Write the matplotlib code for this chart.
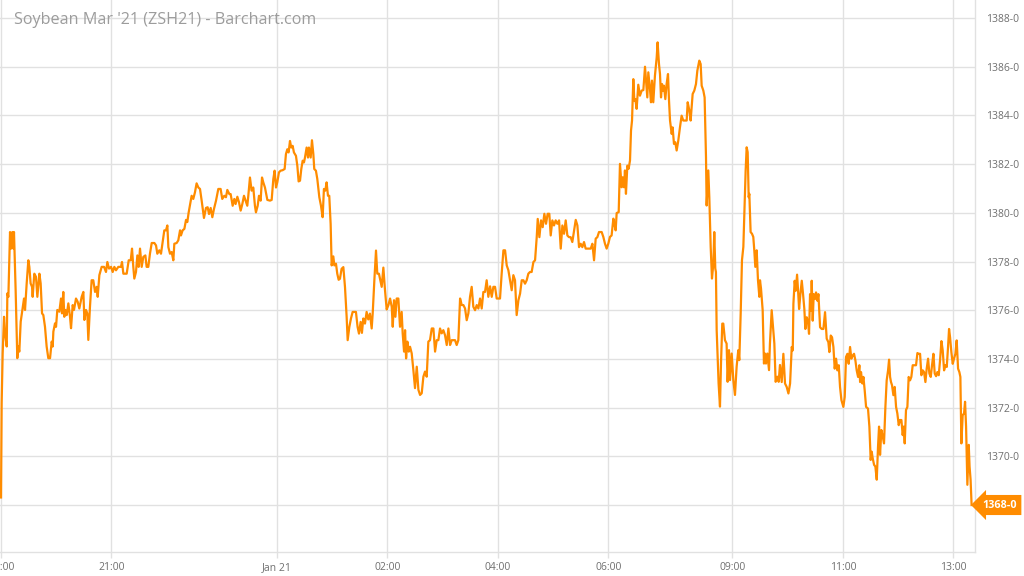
import matplotlib
matplotlib.use("Agg")
import matplotlib.pyplot as plt
import matplotlib.transforms as mtransforms
from matplotlib.ticker import FixedLocator, FuncFormatter, MultipleLocator

plt.rcParams['font.family'] = ['Open Sans', 'DejaVu Sans']

# ---------------------------------------------------------
# Data: ZSH21 intraday, (session minutes since 19:00 open, price in cents)
# session 19:00 -> 07:45, pause, 08:30 -> 13:20 (CT)
# ---------------------------------------------------------
title = "Soybean Mar '21 (ZSH21) - Barchart.com"

evening = [
    (0, 1368.31), (0.7, 1372.19), (1.8, 1374.23), (3.3, 1375.73), (4.3, 1375.05), (6.2, 1374.51),
    (6.9, 1376.69), (8.0, 1376.55), (9.8, 1379.21), (10.9, 1378.53), (12.3, 1379.21), (13.4, 1378.53),
    (14.1, 1379.21), (15.9, 1376.82), (17.7, 1374.03), (18.8, 1374.51), (19.9, 1374.30), (21.4, 1375.53),
    (23.2, 1376.01), (25.0, 1376.48), (26.1, 1376.01), (27.9, 1377.10), (29.7, 1378.05), (30.8, 1377.78),
    (32.2, 1377.10), (33.7, 1376.96), (34.4, 1376.55), (36.2, 1377.50), (38.0, 1377.37), (39.5, 1376.55),
    (41.7, 1377.50), (43.1, 1377.10), (44.6, 1375.87), (46.0, 1375.80), (47.8, 1375.32), (49.6, 1374.51),
    (51.4, 1374.03), (53.3, 1374.03), (55.1, 1374.71), (56.2, 1374.51), (56.9, 1375.12), (58.7, 1375.46),
    (59.8, 1375.32), (61.2, 1376.01), (63.4, 1375.94), (65.2, 1376.48), (66.3, 1375.87), (67.7, 1376.75),
    (68.8, 1375.73), (69.9, 1376.01), (71.4, 1375.80), (73.2, 1376.28), (75.0, 1375.73), (76.1, 1375.26),
    (77.9, 1376.21), (79.3, 1376.01), (81.5, 1376.48), (83.3, 1376.35), (85.1, 1376.07), (87.7, 1376.55),
    (89.5, 1376.75), (90.6, 1375.60), (92.4, 1376.01), (93.8, 1375.87), (94.9, 1374.78), (96.7, 1376.14),
    (98.5, 1377.23), (100.3, 1377.23), (102.2, 1376.75), (104.0, 1376.96), (105.1, 1376.55), (106.9, 1377.44),
    (109.4, 1377.78), (112.0, 1377.78), (114.1, 1377.57), (115.6, 1377.98), (117.4, 1377.71), (119.6, 1377.78),
    (121.4, 1377.57), (123.2, 1377.78), (125.0, 1377.64), (127.5, 1377.78), (130.4, 1377.78), (131.5, 1377.98),
    (133.0, 1377.50), (136.6, 1377.50), (138.8, 1378.05), (141.0, 1378.05), (142.4, 1378.53), (143.8, 1377.78),
    (144.9, 1377.30), (146.7, 1377.57), (148.2, 1378.25), (149.6, 1377.78), (151.1, 1378.53), (152.9, 1377.78),
    (154.7, 1378.19), (156.9, 1378.25), (158.3, 1377.78), (160.1, 1377.78), (161.9, 1378.32), (163.8, 1378.76),
    (166.7, 1378.76), (168.5, 1378.66), (169.9, 1378.32), (172.1, 1378.46), (173.9, 1378.32), (175.7, 1378.80),
    (177.5, 1379.28), (179.3, 1379.28), (180.8, 1379.48), (181.9, 1378.59), (183.7, 1378.32), (185.5, 1378.39),
    (187.3, 1378.05), (188.4, 1378.73), (190.9, 1378.76), (192.7, 1378.87), (194.6, 1379.28), (195.6, 1379.07),
    (197.4, 1379.28), (199.3, 1379.34), (201.1, 1379.71), (202.5, 1379.62), (204.0, 1380.02), (207.2, 1380.70),
    (209.0, 1380.57), (210.8, 1380.84), (212.6, 1381.21), (214.5, 1381.04), (216.3, 1380.98), (218.1, 1380.50),
    (220.6, 1379.79), (222.8, 1380.20), (224.6, 1380.23), (226.1, 1379.95), (227.9, 1380.20), (229.7, 1379.82),
    (231.5, 1380.16), (233.7, 1380.50), (236.2, 1380.98), (238.7, 1380.98), (240.5, 1380.57), (242.7, 1380.70),
    (244.5, 1380.64), (246.0, 1380.94), (248.2, 1380.77), (249.6, 1380.77), (251.8, 1380.29), (253.6, 1380.57),
    (255.0, 1380.36), (256.9, 1380.66), (258.7, 1380.43), (260.5, 1380.09), (262.3, 1380.36), (264.1, 1380.70),
    (265.9, 1380.50), (267.7, 1380.29), (268.8, 1380.70), (270.6, 1381.45), (272.4, 1380.91), (274.2, 1381.04),
    (276.0, 1380.29), (277.1, 1380.02), (279.0, 1380.29), (280.4, 1380.70), (282.2, 1380.50), (283.7, 1381.45),
    (285.1, 1381.25), (286.9, 1381.04), (289.5, 1380.53), (292.4, 1380.50), (294.2, 1380.53), (296.0, 1381.39),
    (297.4, 1381.73), (298.9, 1381.04),
]

overnight = [
    (300.3, 1381.25), (302.1, 1381.66), (303.9, 1381.73), (306.1, 1381.75), (308.3, 1381.80), (309.7, 1382.41),
    (311.2, 1382.61), (312.6, 1382.48), (314.1, 1382.95), (315.5, 1382.68), (317.0, 1382.75), (318.4, 1382.48),
    (320.6, 1382.34), (322.1, 1381.93), (323.5, 1381.29), (325.0, 1381.32), (326.4, 1381.80), (327.9, 1382.14),
    (329.3, 1382.07), (330.4, 1382.27), (332.2, 1382.68), (333.7, 1382.27), (334.7, 1382.68), (336.6, 1382.27),
    (338.0, 1382.98), (339.5, 1382.41), (340.5, 1381.80), (342.3, 1381.73), (343.8, 1381.39), (346.0, 1380.64),
    (347.8, 1380.29), (349.6, 1379.82), (351.0, 1380.98), (352.5, 1380.91), (353.9, 1381.25), (355.4, 1380.70),
    (356.8, 1380.70), (358.3, 1379.54), (359.4, 1377.84), (361.2, 1378.21), (362.3, 1377.84), (364.1, 1377.91),
    (365.5, 1377.50), (367.0, 1377.25), (368.4, 1377.29), (370.2, 1377.70), (372.1, 1377.77), (373.9, 1376.95),
    (375.7, 1375.72), (376.8, 1374.77), (378.6, 1375.31), (380.4, 1375.66), (382.2, 1375.93), (384.0, 1375.93),
    (385.8, 1375.93), (387.6, 1375.31), (389.1, 1375.04), (390.9, 1375.52), (392.3, 1375.07), (393.8, 1375.66),
    (395.6, 1375.45), (397.4, 1375.93), (399.2, 1375.62), (401.0, 1375.86), (402.9, 1375.25), (404.0, 1375.86),
    (405.8, 1377.22), (407.6, 1378.45), (409.0, 1377.50), (410.8, 1377.50), (413.8, 1376.96), (415.6, 1377.75),
    (417.4, 1376.82), (419.2, 1376.03), (421.1, 1376.21), (422.9, 1376.48), (424.7, 1376.14), (425.8, 1375.32),
    (427.2, 1376.41), (428.7, 1375.73), (430.1, 1376.48), (431.9, 1376.48), (433.7, 1375.32), (435.5, 1375.93),
    (436.6, 1375.05), (438.1, 1374.30), (439.2, 1375.18), (440.3, 1374.02), (441.7, 1374.71), (443.2, 1374.30),
    (444.6, 1374.50), (446.4, 1374.23), (448.2, 1373.55), (450.0, 1372.80), (451.9, 1373.68), (453.7, 1372.73),
    (455.5, 1372.52), (457.3, 1372.59), (459.1, 1373.27), (460.9, 1373.48), (462.7, 1373.27), (464.5, 1374.71),
    (466.3, 1374.77), (468.2, 1375.25), (470.0, 1375.25), (471.8, 1374.30), (473.6, 1374.77), (475.4, 1374.77),
    (477.2, 1375.25), (479.0, 1375.05), (480.8, 1375.18), (482.6, 1374.98), (484.5, 1374.57), (486.3, 1375.25),
    (488.1, 1374.57), (489.9, 1374.77), (493.5, 1374.77), (495.3, 1374.57), (497.1, 1374.77), (499.0, 1376.48),
    (500.8, 1376.21), (502.6, 1376.21), (504.4, 1376.07), (506.2, 1375.59), (508.0, 1375.87), (509.8, 1376.55),
    (511.6, 1376.96), (513.4, 1376.14), (515.3, 1376.00), (517.1, 1376.21), (518.9, 1376.07), (520.7, 1376.48),
    (522.5, 1376.07), (524.3, 1376.75), (526.1, 1376.75), (527.9, 1377.23), (529.7, 1376.55), (531.6, 1376.98),
    (533.4, 1376.55), (535.2, 1376.96), (537.0, 1376.96), (538.8, 1376.48), (542.4, 1376.48), (544.2, 1377.50),
    (546.1, 1378.46), (547.9, 1378.46), (549.7, 1377.84), (551.5, 1377.64), (553.3, 1377.23), (555.1, 1376.82),
    (556.9, 1377.44), (558.7, 1377.23), (560.5, 1375.80), (562.4, 1376.41), (564.2, 1376.68), (566.0, 1377.23),
    (567.8, 1377.23), (569.6, 1377.09), (571.4, 1377.23), (573.2, 1377.50), (575.0, 1377.57), (576.8, 1377.57),
    (578.7, 1377.98), (580.5, 1378.05), (582.3, 1379.00), (583.4, 1379.75), (585.2, 1379.00), (587.0, 1379.69),
    (588.8, 1379.41), (590.6, 1379.96), (592.4, 1379.55), (594.2, 1379.96), (596.0, 1379.96), (597.5, 1379.07),
    (599.3, 1379.69), (601.1, 1379.48), (602.9, 1379.69), (604.7, 1379.55), (606.6, 1379.69), (608.4, 1378.53),
    (610.2, 1379.48), (612.0, 1379.14), (613.8, 1379.69), (615.6, 1379.07), (617.4, 1379.00), (619.2, 1379.00),
    (621.0, 1378.80), (622.9, 1379.28), (624.7, 1379.71), (626.5, 1379.48), (628.3, 1378.59), (630.1, 1378.73),
    (631.9, 1378.59), (633.7, 1378.80), (635.5, 1378.53), (637.4, 1378.53), (639.2, 1378.53), (641.0, 1378.53),
    (642.8, 1378.73), (644.6, 1378.05), (646.4, 1378.94), (648.2, 1379.00), (650.0, 1379.21), (652.9, 1379.21),
    (654.7, 1379.01), (656.5, 1378.73), (658.3, 1378.53), (660.1, 1378.73), (661.9, 1379.01), (663.7, 1379.07),
    (665.6, 1379.76), (666.6, 1379.55), (668.1, 1379.28), (669.2, 1379.99), (671.4, 1380.03), (672.8, 1382.01),
    (674.6, 1381.05), (675.7, 1381.46), (677.2, 1381.05), (678.2, 1381.74), (679.3, 1380.78), (680.8, 1381.94),
    (682.2, 1381.81), (683.7, 1382.15), (684.8, 1383.38), (685.9, 1383.79), (687.3, 1385.49), (688.4, 1384.61),
    (689.5, 1384.67), (690.9, 1384.27), (692.7, 1385.26), (694.5, 1384.81), (696.4, 1385.02), (698.2, 1385.04),
    (700.0, 1386.00), (701.1, 1385.43), (702.5, 1384.74), (703.6, 1385.77), (705.4, 1385.08), (706.5, 1384.54),
    (707.6, 1385.43), (709.0, 1384.54), (710.8, 1385.63), (712.7, 1386.38), (713.7, 1387.00), (715.2, 1386.11),
    (716.3, 1385.70), (717.4, 1384.74), (718.5, 1385.29), (719.5, 1385.02), (720.6, 1385.22), (722.1, 1384.67),
    (723.5, 1385.29), (725.0, 1385.70), (726.1, 1384.61), (727.2, 1383.79), (729.0, 1383.24), (730.0, 1383.51),
    (731.5, 1382.83), (732.9, 1382.90), (734.4, 1382.56), (736.2, 1382.97), (738.0, 1383.51), (739.8, 1383.99),
    (741.6, 1383.79), (743.5, 1383.79), (745.3, 1383.79), (746.4, 1384.54), (748.2, 1384.20), (749.6, 1383.79),
    (751.8, 1384.88), (753.6, 1385.02), (755.4, 1385.29), (756.9, 1385.84), (759.0, 1386.25), (760.5, 1386.11),
    (761.6, 1385.22), (763.4, 1385.02), (764.8, 1384.74),
]

day = [
    (766.3, 1382.28), (767.0, 1380.30), (768.8, 1381.74), (769.9, 1380.64), (771.4, 1378.60), (772.8, 1377.30),
    (774.3, 1377.91), (775.3, 1379.21), (776.4, 1377.71), (777.1, 1377.57), (777.9, 1375.18), (779.0, 1374.02),
    (780.0, 1372.99), (781.5, 1372.04), (782.6, 1373.81), (784.0, 1375.45), (785.1, 1375.45), (786.9, 1374.77),
    (788.7, 1374.63), (789.8, 1373.06), (791.3, 1374.36), (792.4, 1373.13), (794.2, 1374.22), (796.0, 1373.13),
    (797.8, 1372.52), (799.6, 1373.68), (801.4, 1374.36), (802.5, 1373.95), (804.0, 1375.86), (805.4, 1378.05),
    (806.9, 1378.60), (807.9, 1379.83), (809.4, 1381.74), (810.5, 1382.69), (811.6, 1382.49), (812.7, 1380.64),
    (813.4, 1380.78), (814.8, 1379.21), (816.3, 1379.14), (817.7, 1379.01), (818.8, 1378.46), (819.9, 1377.78),
    (821.4, 1378.46), (822.8, 1377.23), (824.3, 1376.55), (825.0, 1377.23), (826.1, 1376.89), (827.9, 1376.00),
    (829.3, 1373.81), (830.4, 1374.22), (831.5, 1373.81), (833.0, 1374.22), (834.8, 1373.54), (835.8, 1374.63),
    (837.7, 1376.00), (839.5, 1375.18), (840.6, 1374.63), (842.0, 1373.06), (843.8, 1373.27), (845.3, 1373.06),
    (846.7, 1373.75), (848.6, 1373.05), (850.4, 1374.21), (852.2, 1372.99), (854.0, 1372.85), (855.9, 1372.58),
    (857.7, 1372.99), (859.5, 1374.49), (860.6, 1374.35), (861.3, 1376.26), (862.7, 1377.21), (863.8, 1376.80),
    (865.3, 1377.46), (866.4, 1376.80), (867.5, 1376.05), (868.9, 1376.66), (870.4, 1377.21), (871.8, 1376.66),
    (873.2, 1376.05), (874.3, 1375.23), (875.8, 1375.71), (877.2, 1375.51), (878.3, 1375.03), (879.4, 1376.66),
    (880.5, 1375.98), (881.2, 1377.21), (882.3, 1375.57), (883.4, 1376.66), (884.8, 1376.46), (885.9, 1376.73),
    (887.4, 1376.39), (888.5, 1376.66), (890.3, 1375.30), (892.1, 1375.23), (893.9, 1375.23), (895.7, 1375.92),
    (897.5, 1374.83), (899.3, 1374.69), (900.4, 1374.28), (901.9, 1374.96), (903.3, 1374.89), (904.8, 1374.49),
    (906.2, 1373.60), (907.7, 1374.01), (909.1, 1373.53), (910.6, 1373.74), (912.0, 1372.85), (913.5, 1372.31),
    (915.6, 1372.03), (917.1, 1372.44), (918.5, 1374.08), (920.0, 1374.21), (921.4, 1373.80), (922.9, 1374.49),
    (924.3, 1374.01), (925.8, 1374.14), (927.2, 1374.21), (928.7, 1373.94), (930.1, 1373.53), (931.6, 1373.26),
    (933.0, 1373.74), (933.8, 1373.05), (934.8, 1373.46), (936.3, 1372.99), (937.4, 1373.26), (938.8, 1372.71),
    (940.3, 1372.03), (942.4, 1371.96), (943.9, 1371.22), (945.3, 1369.85), (946.4, 1370.19), (947.5, 1369.92),
    (949.0, 1369.65), (950.4, 1369.58), (951.9, 1369.04), (953.3, 1370.40), (954.4, 1371.22), (955.5, 1370.06),
    (956.9, 1371.08), (958.4, 1370.81), (959.8, 1370.53), (961.3, 1372.03), (962.7, 1373.12), (964.2, 1373.53),
    (965.3, 1373.97), (966.4, 1373.26), (967.4, 1373.05), (968.5, 1372.92), (970.0, 1372.51), (971.4, 1372.85),
    (972.9, 1372.03), (974.3, 1371.76), (975.8, 1371.28), (977.2, 1371.49), (978.7, 1371.49), (980.1, 1370.87),
    (981.2, 1371.22), (982.3, 1370.53), (983.7, 1371.90), (985.2, 1372.03), (986.6, 1373.26), (988.1, 1373.12),
    (989.5, 1373.26), (991.0, 1373.74), (993.2, 1373.74), (994.6, 1373.74), (996.1, 1374.24), (997.5, 1374.21),
    (999.0, 1374.21), (1000.4, 1373.33), (1001.9, 1373.53), (1003.3, 1373.46), (1004.8, 1373.05), (1006.2, 1373.60),
    (1007.7, 1374.01), (1009.1, 1373.40), (1010.6, 1373.26), (1012.0, 1373.74), (1013.5, 1374.21), (1014.9, 1373.40),
    (1016.4, 1373.29), (1017.8, 1373.46), (1019.3, 1373.33), (1020.7, 1373.94), (1022.2, 1374.73), (1023.6, 1374.35),
    (1025.1, 1373.53), (1026.5, 1373.74), (1028.0, 1373.67), (1029.4, 1374.49), (1030.5, 1375.23), (1031.6, 1374.89),
    (1033.0, 1374.28), (1034.5, 1373.80), (1035.9, 1374.01), (1037.4, 1374.21), (1038.8, 1374.76), (1040.3, 1373.60),
    (1041.7, 1373.46), (1042.8, 1373.26), (1043.9, 1370.53), (1045.3, 1371.69), (1046.8, 1371.76), (1047.9, 1372.24),
    (1049.0, 1371.22), (1050.4, 1368.83), (1051.9, 1370.47), (1052.8, 1369.58), (1053.9, 1369.04), (1055.0, 1368.00),
]

tick_times = ["19:00", "21:00", "00:00", "02:00", "04:00", "06:00", "09:00", "11:00", "13:00"]
tick_labels = ["19:00", "21:00", "Jan 21", "02:00", "04:00", "06:00", "09:00", "11:00", "13:00"]


def session_minute(hhmm):
    # minutes of trading since the 19:00 open, skipping the 07:45-08:30 pause
    h, m = map(int, hhmm.split(":"))
    t = h * 60 + m
    if t >= 19 * 60:
        return t - 19 * 60
    if t <= 7 * 60 + 45:
        return t + 5 * 60
    return 765 + (t - (8 * 60 + 30))


def eighths(v, pos=None):
    whole = int(v)
    return f"{whole}-{int(round((v - whole) * 8))}"


points = evening + overnight + day
minutes = [p[0] for p in points]
prices = [p[1] for p in points]
last_price = prices[-1]

# ---------------------------------------------------------
# Plot
# ---------------------------------------------------------
line_color = '#ff8c00'
grid_color = '#e1e1e1'
text_color = '#6f6f6f'

fig = plt.figure(figsize=(10.24, 5.76), dpi=100)
ax = fig.add_axes([0, 24 / 576, 975 / 1024, 552 / 576])

ax.plot(minutes, prices, color=line_color, linewidth=1.6, solid_joinstyle='round', zorder=3)

ax.set_xlim(-1.1, 1058.7)
ax.set_ylim(1366.07, 1388.74)

ax.xaxis.set_major_locator(FixedLocator([session_minute(t) for t in tick_times]))
ax.set_xticklabels(tick_labels)
ax.yaxis.set_major_locator(MultipleLocator(2))
# the scale label under the last-price marker is hidden by the marker itself
ax.yaxis.set_major_formatter(FuncFormatter(
    lambda v, pos: "" if abs(v - last_price) < 0.3 else eighths(v)))
ax.yaxis.tick_right()

ax.grid(True, color=grid_color, linewidth=1.0)
ax.set_axisbelow(True)
for side in ['top', 'left']:
    ax.spines[side].set_visible(False)
for side in ['bottom', 'right']:
    ax.spines[side].set_color(grid_color)
    ax.spines[side].set_linewidth(1.0)

ax.tick_params(axis='x', length=4, color=grid_color, width=1.0, pad=3, labelsize=7.5, labelcolor=text_color)
ax.tick_params(axis='y', length=0, pad=8, labelsize=7.5, labelcolor=text_color)

fig.text(14 / 1024, 1 - 20 / 576, title, ha='left', va='center', fontsize=11.6, color='#9c9c9c')

# last price marker on the price scale
trans = mtransforms.blended_transform_factory(ax.transAxes, ax.transData)
ax.text(1.0075, last_price, eighths(last_price), transform=trans, ha='left', va='center',
        fontsize=7.8, fontweight='bold', color='white', clip_on=False, zorder=5,
        bbox=dict(boxstyle='larrow,pad=0.42', fc=line_color, ec='none'))

fig.savefig("out.png", dpi=100)
